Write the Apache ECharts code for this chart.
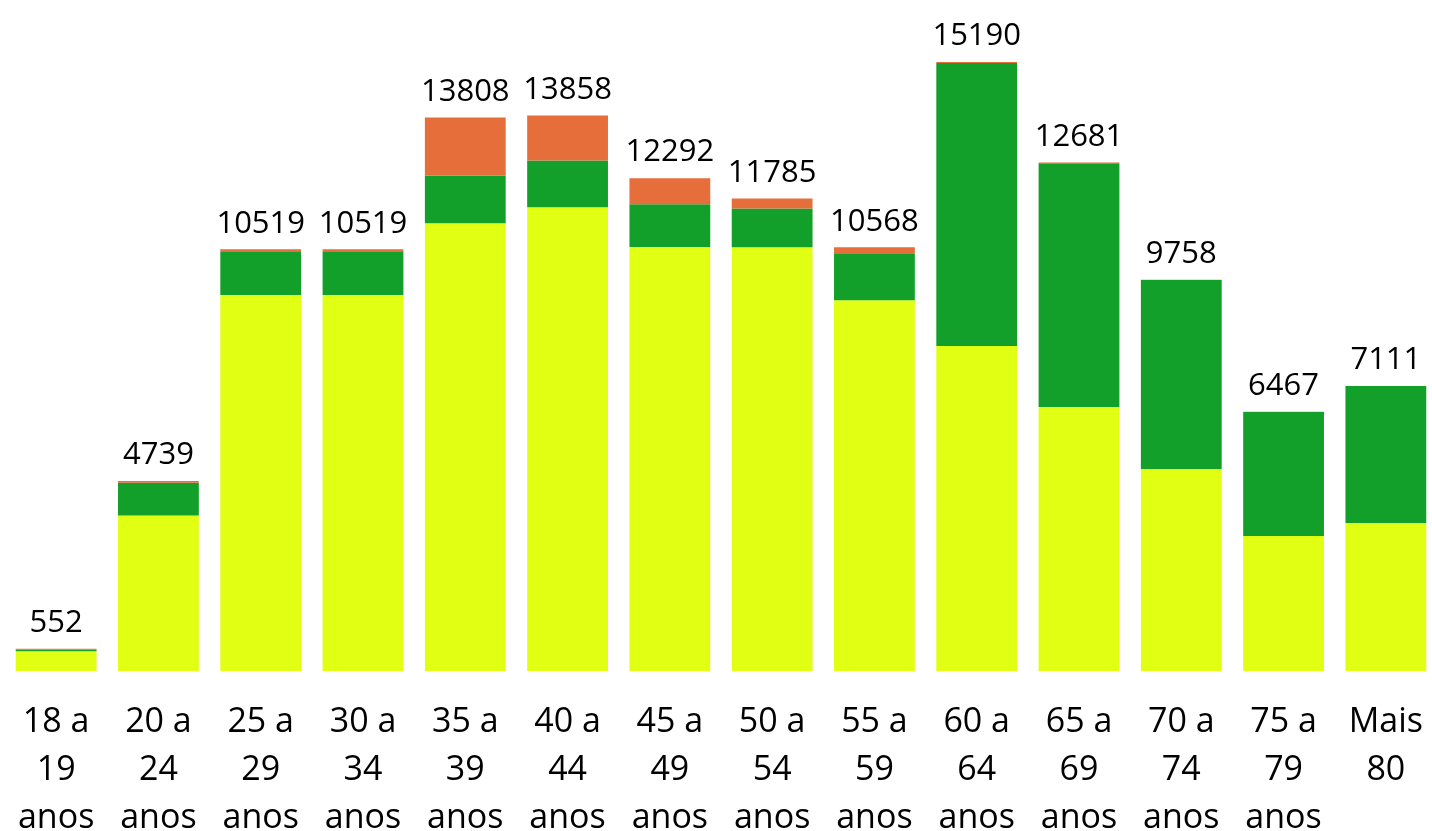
<!DOCTYPE html>
<html>
<head>
<meta charset="utf-8">
<script src="https://cdn.jsdelivr.net/npm/echarts@6/dist/echarts.min.js"></script>
<style>
  html, body { margin: 0; padding: 0; background: #fff; }
  #chart { width: 1432px; height: 831px; }
</style>
</head>
<body>
<div id="chart"></div>
<script>
const categories = [
  '18 a\n19\nanos', '20 a\n24\nanos', '25 a\n29\nanos', '30 a\n34\nanos',
  '35 a\n39\nanos', '40 a\n44\nanos', '45 a\n49\nanos', '50 a\n54\nanos',
  '55 a\n59\nanos', '60 a\n64\nanos', '65 a\n69\nanos', '70 a\n74\nanos',
  '75 a\n79\nanos', 'Mais\n80'
];
// bottom segment (yellow)
const yellowValues = [490, 3880, 9375, 9375, 11165, 11565, 10573, 10570, 9250, 8106, 6584, 5038, 3367, 3691];
// middle segment (green)
const greenValues = [40, 815, 1095, 1095, 1195, 1170, 1071, 968, 1170, 7059, 6077, 4712, 3092, 3415];
// top segment (orange)
const orangeValues = [22, 44, 49, 49, 1448, 1123, 648, 247, 148, 25, 20, 8, 8, 5];
// totals shown above bars
const totals = [552, 4739, 10519, 10519, 13808, 13858, 12292, 11785, 10568, 15190, 12681, 9758, 6467, 7111];

const chart = echarts.init(document.getElementById('chart'), null, { renderer: 'canvas' });

const font = '"Open Sans", "Noto Sans", sans-serif';

chart.setOption({
  animation: false,
  grid: {
    left: 5,
    right: -5,
    top: 29.5,
    bottom: 160,
    containLabel: false,
    outerBoundsMode: 'none'
  },
  xAxis: {
    type: 'category',
    data: categories,
    axisLine: { show: false },
    axisTick: { show: false },
    axisLabel: {
      interval: 0,
      margin: 27,
      color: '#000',
      fontFamily: font,
      fontSize: 34,
      lineHeight: 48
    }
  },
  yAxis: {
    type: 'value',
    min: 0,
    max: 16000,
    show: false,
    splitLine: { show: false }
  },
  series: [
    {
      name: 'amarelo',
      type: 'bar',
      stack: 'total',
      data: yellowValues,
      barCategoryGap: '21%',
      itemStyle: { color: '#E1FF12' }
    },
    {
      name: 'verde',
      type: 'bar',
      stack: 'total',
      data: greenValues,
      itemStyle: { color: '#12A02B' }
    },
    {
      name: 'laranja',
      type: 'bar',
      stack: 'total',
      data: orangeValues,
      itemStyle: { color: '#E56E3A' },
      label: {
        show: true,
        position: 'top',
        distance: 10,
        color: '#000',
        fontFamily: font,
        fontSize: 31,
        formatter: p => String(totals[p.dataIndex])
      }
    }
  ]
});
</script>
</body>
</html>
